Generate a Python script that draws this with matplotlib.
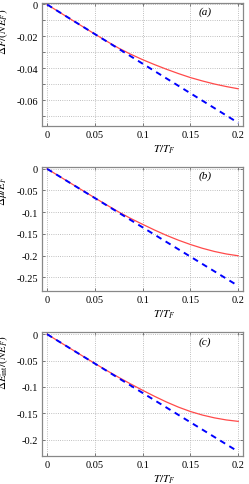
import numpy as np
import matplotlib
matplotlib.use('Agg')
import matplotlib.pyplot as plt

plt.rcParams['font.family'] = ['Liberation Serif', 'DejaVu Serif']
plt.rcParams['mathtext.fontset'] = 'stix'
plt.rcParams['axes.unicode_minus'] = False

# Data
t = [0, 0.025, 0.05, 0.0625, 0.075, 0.0875, 0.1, 0.1125, 0.125,
     0.1375, 0.15, 0.1625, 0.175, 0.1875, 0.2]
red_a = [0, -0.0093, -0.0185, -0.0230, -0.0273, -0.0311, -0.0345, -0.0376,
         -0.0405, -0.0432, -0.0457, -0.0478, -0.0497, -0.0513, -0.0527]
red_b = [0, -0.0336, -0.067, -0.0835, -0.0995, -0.1145, -0.128, -0.1412,
         -0.1535, -0.1646, -0.1745, -0.1832, -0.1905, -0.1963, -0.2005]
red_c = [0, -0.0279, -0.0556, -0.069, -0.082, -0.0945, -0.1065, -0.1180,
         -0.1288, -0.1385, -0.1468, -0.1535, -0.1588, -0.1628, -0.1655]
t_lin = [0, 0.2]
blue_a = [0, -0.074]
blue_b = [0, -0.27]
blue_c = [0, -0.223]

xticks = [0, 0.05, 0.1, 0.15, 0.2]
xticklabels = ['0', '0.05', '0.1', '0.15', '0.2']

panels = [
    dict(red=red_a, blue=blue_a, tag='(a)', ylab=r'$\Delta F/(N E_F)$',
         ylim=(-0.076, 0.001), yticks=np.arange(0, -0.0751, -0.01),
         ylabels=['0', '', '-0.02', '', '-0.04', '', '-0.06', ''],
         box=(0.169, 0.738, 0.807, 0.254), ylabpos=0.77),
    dict(red=red_b, blue=blue_b, tag='(b)', ylab=r'$\Delta \mu/E_F$',
         ylim=(-0.2816, 0.0046), yticks=np.arange(0, -0.2501, -0.05),
         ylabels=['0', '-0.05', '-0.1', '-0.15', '-0.2', '-0.25'],
         box=(0.169, 0.398, 0.807, 0.256), ylabpos=0.82),
    dict(red=red_c, blue=blue_c, tag='(c)', ylab=r'$\Delta E_{\rm int}/(N E_F)$',
         ylim=(-0.231, 0.0038), yticks=np.arange(0, -0.2001, -0.05),
         ylabels=['0', '-0.05', '-0.1', '-0.15', '-0.2'],
         box=(0.169, 0.058, 0.807, 0.255), ylabpos=0.76),
]

fig = plt.figure(figsize=(2.49, 4.85), dpi=100)

for p in panels:
    ax = fig.add_axes(p['box'])
    ax.plot(t, p['red'], color='#ff4a4a', lw=0.9)
    ax.plot(t_lin, p['blue'], color='#0000ff', lw=1.4, ls=(0, (3.0, 2.5)))
    ax.set_xlim(-0.0052, 0.205)
    ax.set_ylim(*p['ylim'])
    ax.set_xticks(xticks)
    ax.set_xticklabels(xticklabels)
    ax.set_yticks(p['yticks'])
    ax.set_yticklabels(p['ylabels'])
    ax.tick_params(direction='in', length=2.5, width=0.6, labelsize=7.5,
                   top=True, right=True, colors='#666666', labelcolor='black', pad=3)
    ax.grid(True, ls=':', lw=0.6, color='#aaaaaa')
    for s in ax.spines.values():
        s.set_color('#888888')
        s.set_linewidth(0.9)
    ax.text(0.81, 0.93, p['tag'], transform=ax.transAxes, fontsize=8,
            ha='center', va='center', style='italic')
    ax.text(0.61, -0.187, r'$T/T_F$', transform=ax.transAxes, fontsize=8,
            ha='center', va='center')
    # y labels sit partly outside the figure, as in the reference
    ax.text(-0.195, p['ylabpos'], p['ylab'], transform=ax.transAxes, fontsize=8,
            ha='center', va='center', rotation=90)

fig.savefig('out.png', dpi=100)
